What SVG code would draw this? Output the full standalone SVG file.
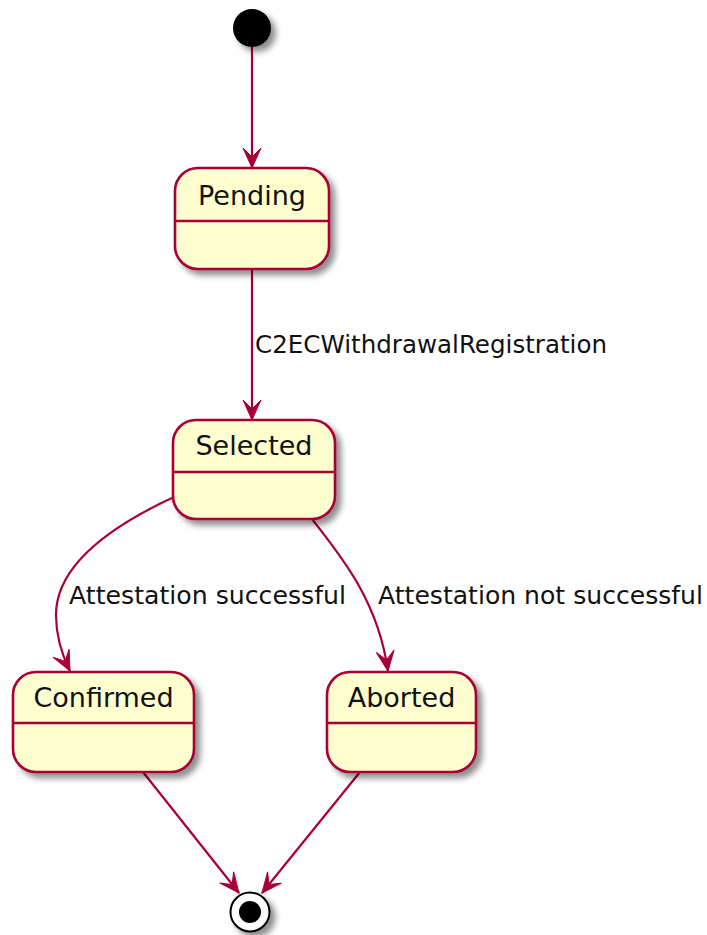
<svg xmlns="http://www.w3.org/2000/svg" width="707" height="935" viewBox="0 0 707 935">
<style>
.state{fill:#FEFECE;stroke:#A80036;stroke-width:2.6}
.div{stroke:#A80036;stroke-width:2.6}
.name{font-family:"DejaVu Sans",sans-serif;font-size:27px;fill:#111;text-anchor:middle}
.lbl{font-family:"DejaVu Sans",sans-serif;font-size:24.8px;fill:#111}
.edge{fill:none;stroke:#A80036;stroke-width:2.2;marker-end:url(#arr)}
</style>
<defs>
<filter id="sh" x="-20%" y="-20%" width="150%" height="150%">
<feGaussianBlur in="SourceAlpha" stdDeviation="3"/>
<feOffset dx="5" dy="5" result="b"/>
<feComponentTransfer><feFuncA type="linear" slope="0.45"/></feComponentTransfer>
<feMerge><feMergeNode/><feMergeNode in="SourceGraphic"/></feMerge>
</filter>
<marker id="arr" markerUnits="userSpaceOnUse" viewBox="-21 -10 22 20" markerWidth="22" markerHeight="20" refX="0" refY="0" orient="auto">
<path d="M0,0 L-20,-9 L-11,0 L-20,9 Z" fill="#A80036" stroke="#A80036" stroke-width="1"/>
</marker>
</defs>
<g id="connectors">
<path class="edge" d="M252,47 L252,168"/>
<path class="edge" d="M252,269 L252,420"/>
<path class="edge" d="M174,497 C120,522 56,562 56,615 C56,638 62,655 70,671"/>
<path class="edge" d="M312,519 C340,555 378,600 388,671"/>
<path class="edge" d="M143,772 L239,893"/>
<path class="edge" d="M360,772 L262,893"/>
<text class="lbl" x="255" y="353" textLength="352" lengthAdjust="spacingAndGlyphs">C2ECWithdrawalRegistration</text>
<text class="lbl" x="69" y="604" textLength="277" lengthAdjust="spacingAndGlyphs">Attestation successful</text>
<text class="lbl" x="378" y="604" textLength="325" lengthAdjust="spacingAndGlyphs">Attestation not successful</text>
</g>
<g id="start">
<circle cx="252" cy="28" r="19" fill="#000" filter="url(#sh)"/>
</g>
<g id="Pending">
<rect class="state" x="175" y="168" width="154" height="101" rx="23" filter="url(#sh)"/>
<line class="div" x1="175" y1="221" x2="329" y2="221"/>
<text class="name" x="252" y="205">Pending</text>
</g>
<g id="Selected">
<rect class="state" x="173" y="420" width="162" height="99" rx="23" filter="url(#sh)"/>
<line class="div" x1="173" y1="472" x2="335" y2="472"/>
<text class="name" x="254" y="455">Selected</text>
</g>
<g id="Confirmed">
<rect class="state" x="13" y="672" width="181" height="100" rx="23" filter="url(#sh)"/>
<line class="div" x1="13" y1="723" x2="194" y2="723"/>
<text class="name" x="103.5" y="707">Confirmed</text>
</g>
<g id="Aborted">
<rect class="state" x="327" y="672" width="149" height="100" rx="23" filter="url(#sh)"/>
<line class="div" x1="327" y1="723" x2="476" y2="723"/>
<text class="name" x="401.5" y="707">Aborted</text>
</g>
<g id="end">
<circle cx="250" cy="912" r="19.5" fill="#fff" stroke="#000" stroke-width="2" filter="url(#sh)"/>
<circle cx="250" cy="912" r="11" fill="#000"/>
</g>
</svg>
